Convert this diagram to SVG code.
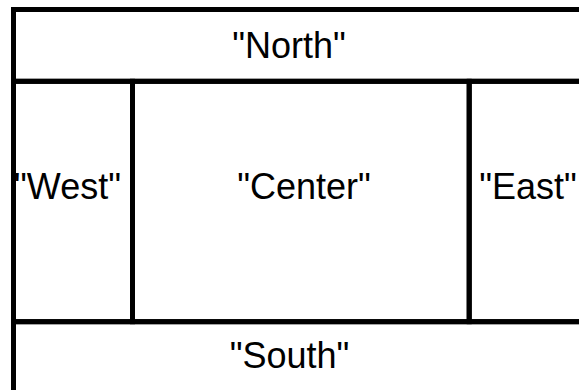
<svg xmlns="http://www.w3.org/2000/svg" width="579" height="390" viewBox="0 0 579 390">
  <style>
    .cell { fill: none; stroke: #000; stroke-width: 5; }
    .lbl { font-family: "Liberation Sans", Arial, Helvetica, sans-serif; font-size: 36px; fill: #000; text-anchor: middle; }
  </style>
  <rect x="0" y="0" width="579" height="390" fill="#fff"/>
  <g id="north">
    <text class="lbl" x="289" y="58">"North"</text>
    <rect class="cell" x="13.5" y="9.5" width="620" height="71.8"/>
  </g>
  <g id="west">
    <text class="lbl" x="67.5" y="199">"West"</text>
    <rect class="cell" x="13.5" y="81.3" width="119" height="240.4"/>
  </g>
  <g id="center">
    <text class="lbl" x="304" y="199">"Center"</text>
    <rect class="cell" x="132.5" y="81.3" width="336.7" height="240.4"/>
  </g>
  <g id="east">
    <text class="lbl" x="528" y="199">"East"</text>
    <rect class="cell" x="469.2" y="81.3" width="200" height="240.4"/>
  </g>
  <g id="south">
    <text class="lbl" x="289.5" y="368">"South"</text>
    <rect class="cell" x="13.5" y="321.7" width="620" height="120"/>
  </g>
  <g id="connectors"></g>
</svg>
